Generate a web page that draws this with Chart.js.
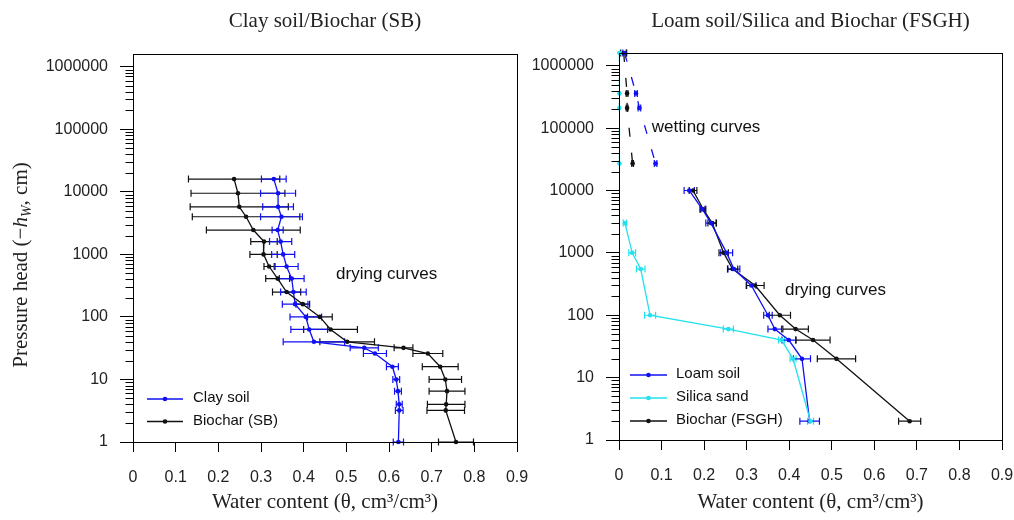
<!DOCTYPE html>
<html><head><meta charset="utf-8">
<script src="https://cdn.jsdelivr.net/npm/chart.js@4"></script>
<style>
html,body{margin:0;padding:0;background:#fff;overflow:hidden;width:1014px;height:520px;}
#wrapL{position:absolute;left:0;top:0;width:547px;height:520px;}
#wrapR{position:absolute;left:524px;top:0;width:510px;height:520px;}
#ytitle{position:absolute;left:-130px;top:253px;width:300px;height:24px;line-height:24px;text-align:center;
 font-family:"Liberation Serif",serif;font-size:21px;color:#222;transform:rotate(-90deg);transform-origin:50% 50%;white-space:nowrap;}
#ytitle sub{font-size:14px;vertical-align:-4px;line-height:0;}
</style></head><body>
<div id="wrapL"><canvas id="cL" width="547" height="520" style="width:547px;height:520px"></canvas></div>
<div id="wrapR"><canvas id="cR" width="510" height="520" style="width:510px;height:520px"></canvas></div>
<div id="ytitle">Pressure head (−<i>h</i><sub><i>W</i></sub>, cm)</div>
<script>
// ---------- data ----------
const xTickValues = [0, 0.1, 0.2, 0.3, 0.4, 0.5, 0.6, 0.7, 0.8, 0.9];
const yTickValues = [1, 10, 100, 1000, 10000, 100000, 1000000];

// Left panel: Clay soil / Biochar (SB), drying curves
const pressureSB = [16000, 9500, 5750, 4000, 2450, 1600, 1000, 640, 410, 250, 160, 100, 63, 40, 32, 26, 16, 10, 6.5, 4, 3.2, 1];
const clayTheta = [0.330, 0.340, 0.340, 0.348, 0.339, 0.346, 0.352, 0.360, 0.372, 0.376, 0.380, 0.405, 0.413, 0.424, 0.542, 0.567, 0.608, 0.617, 0.621, 0.624, 0.624, 0.622];
const clayErr = [0.029, 0.041, 0.036, 0.049, 0.013, 0.026, 0.027, 0.027, 0.029, 0.030, 0.030, 0.037, 0.043, 0.072, 0.033, 0.027, 0.014, 0.008, 0.008, 0.007, 0.009, 0.012];
const biocharSBTheta = [0.237, 0.246, 0.249, 0.265, 0.282, 0.307, 0.306, 0.319, 0.339, 0.360, 0.398, 0.438, 0.463, 0.502, 0.634, 0.691, 0.720, 0.732, 0.736, 0.734, 0.733, 0.757];
const biocharSBErr = [0.107, 0.110, 0.115, 0.126, 0.110, 0.031, 0.032, 0.012, 0.028, 0.033, 0.016, 0.029, 0.063, 0.064, 0.022, 0.035, 0.042, 0.038, 0.042, 0.044, 0.044, 0.041];

// Right panel: Loam soil / Silica sand / Biochar (FSGH)
const pressureFS = [10000, 5000, 3000, 1000, 550, 300, 100, 60, 40, 20, 2];
const loamTheta = [0.165, 0.196, 0.216, 0.253, 0.270, 0.311, 0.350, 0.366, 0.399, 0.430, 0.448];
const loamErr = [0.012, 0.006, 0.012, 0.014, 0.014, 0.011, 0.010, 0.016, 0.016, 0.020, 0.023];
const biocharFSTheta = [0.174, 0.198, 0.219, 0.246, 0.267, 0.320, 0.378, 0.415, 0.456, 0.511, 0.683];
const biocharFSErr = [0.009, 0.006, 0.010, 0.011, 0.012, 0.021, 0.025, 0.030, 0.040, 0.045, 0.026];
const pressureSand = [3000, 1000, 550, 100, 60, 40, 20, 2];
const silicaTheta = [0.014, 0.031, 0.051, 0.073, 0.257, 0.382, 0.409, 0.450];
const silicaErr = [0.004, 0.008, 0.010, 0.013, 0.012, 0.007, 0.007, 0.007];

// Right panel: wetting curves
const pressureWet = [1600000, 360000, 210000, 27000];
const loamWetTheta = [0.013, 0.040, 0.048, 0.086];
const loamWetErr = [0.004, 0.003, 0.003, 0.003];
const biocharWetTheta = [0.011, 0.019, 0.019, 0.032];
const biocharWetErr = [0.007, 0.002, 0.002, 0.002];
const silicaWetTheta = [0.001, 0.001, 0.001, 0.001];

// ---------- style ----------
const BLUE = '#1010f4', BLACK = '#111111', CYAN = '#22e2ef';
const SANS = '"Liberation Sans", Arial, sans-serif';
const SERIF = '"Liberation Serif", "Times New Roman", serif';

function pts(xs, ys) { return xs.map((x, i) => ({x: x, y: ys[i]})); }

function series(label, xs, ys, errs, color, dashed) {
  return {
    label: label, data: pts(xs, ys), errors: errs,
    borderColor: color, backgroundColor: color, pointBackgroundColor: color,
    pointBorderWidth: 0, pointRadius: 2.3, pointHoverRadius: 2.3,
    borderWidth: 1.3, showLine: true, fill: false, tension: 0,
    borderDash: dashed ? [9, 16] : [], clip: 6
  };
}

const errorBarPlugin = {
  id: 'errorBars',
  beforeDatasetsDraw(chart) {
    const ctx = chart.ctx, xs = chart.scales.x, ys = chart.scales.y;
    chart.data.datasets.forEach((ds, i) => {
      if (!ds.errors) return;
      ctx.save();
      ctx.strokeStyle = ds.borderColor; ctx.lineWidth = 1.2; ctx.setLineDash([]);
      ctx.beginPath();
      ds.data.forEach((p, j) => {
        const e = ds.errors[j]; if (!e) return;
        const y = ys.getPixelForValue(p.y);
        const x1 = xs.getPixelForValue(p.x - e), x2 = xs.getPixelForValue(p.x + e);
        ctx.moveTo(x1, y); ctx.lineTo(x2, y);
        ctx.moveTo(x1, y - 3.5); ctx.lineTo(x1, y + 3.5);
        ctx.moveTo(x2, y - 3.5); ctx.lineTo(x2, y + 3.5);
      });
      ctx.stroke();
      ctx.restore();
    });
  }
};

const framePlugin = {
  id: 'frame',
  afterDraw(chart) {
    const ctx = chart.ctx, a = chart.chartArea, ys = chart.scales.y;
    ctx.save();
    ctx.strokeStyle = '#000'; ctx.lineWidth = 1;
    const l = Math.round(a.left), t = Math.round(a.top), r = Math.round(a.right), b = Math.round(a.bottom);
    ctx.strokeRect(l + 0.5, t + 0.5, r - l, b - t);
    ctx.beginPath();
    for (let k = 0; k < 7; k++) {
      for (let m = 2; m < 10; m++) {
        const v = m * Math.pow(10, k);
        if (v > ys.max) continue;
        const y = Math.round(ys.getPixelForValue(v)) + 0.5;
        ctx.moveTo(l + 0.5 - 8, y); ctx.lineTo(l + 0.5, y);
      }
    }
    ctx.stroke();
    ctx.restore();
  }
};

const notesPlugin = {
  id: 'notes',
  afterDraw(chart, args, opts) {
    const ctx = chart.ctx, xs = chart.scales.x, ys = chart.scales.y, a = chart.chartArea;
    ctx.save();
    ctx.fillStyle = '#111'; ctx.textBaseline = 'middle'; ctx.textAlign = 'left';
    ctx.font = '17px ' + SANS;
    (opts.notes || []).forEach(n => ctx.fillText(n.text, xs.getPixelForValue(n.x), ys.getPixelForValue(n.y)));
    // legend
    const lg = opts.legend;
    if (lg) {
      ctx.font = '15px ' + SANS;
      lg.items.forEach((idx, r) => {
        const ds = chart.data.datasets[idx];
        const y = a.bottom + lg.rows[r];
        ctx.strokeStyle = ds.borderColor; ctx.lineWidth = 1.3;
        ctx.beginPath(); ctx.moveTo(a.left + lg.x0, y); ctx.lineTo(a.left + lg.x1, y); ctx.stroke();
        ctx.fillStyle = ds.borderColor;
        ctx.beginPath(); ctx.arc(a.left + (lg.x0 + lg.x1) / 2, y, 2.3, 0, Math.PI * 2); ctx.fill();
        ctx.fillStyle = '#111';
        ctx.fillText(ds.label, a.left + lg.tx, y - 1);
      });
    }
    ctx.restore();
  }
};

function makeOptions(cfg) {
  return {
    responsive: false, animation: false, events: [],
    layout: {padding: {left: 0, right: cfg.padRight, top: 0, bottom: 0}},
    plugins: {
      legend: {display: false}, tooltip: {enabled: false},
      title: {display: true, text: cfg.title, fullSize: false, color: '#222',
        font: {family: SERIF, size: 21, weight: 'normal'},
        padding: {top: 8.9, bottom: cfg.titleBottom}},
      notes: {notes: cfg.notes, legend: cfg.legend}
    },
    scales: {
      x: {
        type: 'linear', position: 'bottom', min: 0, max: 0.9,
        afterBuildTicks: s => { s.ticks = xTickValues.map(v => ({value: v})); },
        afterFit: s => { s.height = cfg.xHeight; },
        ticks: {color: '#222', padding: 16, font: {family: SANS, size: 16},
          callback: v => String(+(+v).toFixed(1)), maxRotation: 0, autoSkip: false},
        grid: {display: true, drawOnChartArea: false, drawTicks: true, tickLength: 10, color: '#000', lineWidth: 1},
        border: {display: true, color: '#000', width: 1},
        title: {display: true, text: 'Water content (θ, cm³/cm³)', color: '#222',
          font: {family: SERIF, size: 21, weight: 'normal'}, padding: {top: 0, bottom: cfg.xTitleBottom}}
      },
      y: {
        type: 'logarithmic', position: 'left', min: 1, max: 1600000,
        afterBuildTicks: s => { s.ticks = yTickValues.map(v => ({value: v})); },
        afterFit: s => { s.width = cfg.yWidth; },
        ticks: {color: '#222', padding: 12, font: {family: SANS, size: 16},
          callback: v => String(v), autoSkip: false},
        grid: {display: true, drawOnChartArea: false, drawTicks: true, tickLength: 13, color: '#000', lineWidth: 1},
        border: {display: true, color: '#000', width: 1}
      }
    }
  };
}

new Chart(document.getElementById('cL'), {
  type: 'scatter',
  data: {datasets: [
    series('Biochar (SB)', biocharSBTheta, pressureSB, biocharSBErr, BLACK, false),
    series('Clay soil', clayTheta, pressureSB, clayErr, BLUE, false)
  ]},
  options: makeOptions({
    title: 'Clay soil/Biochar (SB)', padRight: 30, titleBottom: 19.9, xHeight: 78, yWidth: 133, xTitleBottom: 4.5,
    notes: [{text: 'drying curves', x: 0.476, y: 485}],
    legend: {items: [1, 0], rows: [-43, -20.5], x0: 14, x1: 50, tx: 60}
  }),
  plugins: [errorBarPlugin, framePlugin, notesPlugin]
});

new Chart(document.getElementById('cR'), {
  type: 'scatter',
  data: {datasets: [
    series('Silica sand', silicaTheta, pressureSand, silicaErr, CYAN, false),
    series('Loam soil', loamTheta, pressureFS, loamErr, BLUE, false),
    series('Biochar (FSGH)', biocharFSTheta, pressureFS, biocharFSErr, BLACK, false),
    series('Silica sand (wetting)', silicaWetTheta, pressureWet, null, CYAN, true),
    series('Loam soil (wetting)', loamWetTheta, pressureWet, loamWetErr, BLUE, true),
    series('Biochar (FSGH) (wetting)', biocharWetTheta, pressureWet, biocharWetErr, BLACK, true)
  ]},
  options: makeOptions({
    title: 'Loam soil/Silica and Biochar (FSGH)', padRight: 32, titleBottom: 18.9, xHeight: 80, yWidth: 95, xTitleBottom: 5,
    notes: [{text: 'drying curves', x: 0.390, y: 248}, {text: 'wetting curves', x: 0.0768, y: 104000}],
    legend: {items: [1, 0, 2], rows: [-65, -42, -19], x0: 11, x1: 48, tx: 57}
  }),
  plugins: [errorBarPlugin, framePlugin, notesPlugin]
});
</script>
</body></html>
